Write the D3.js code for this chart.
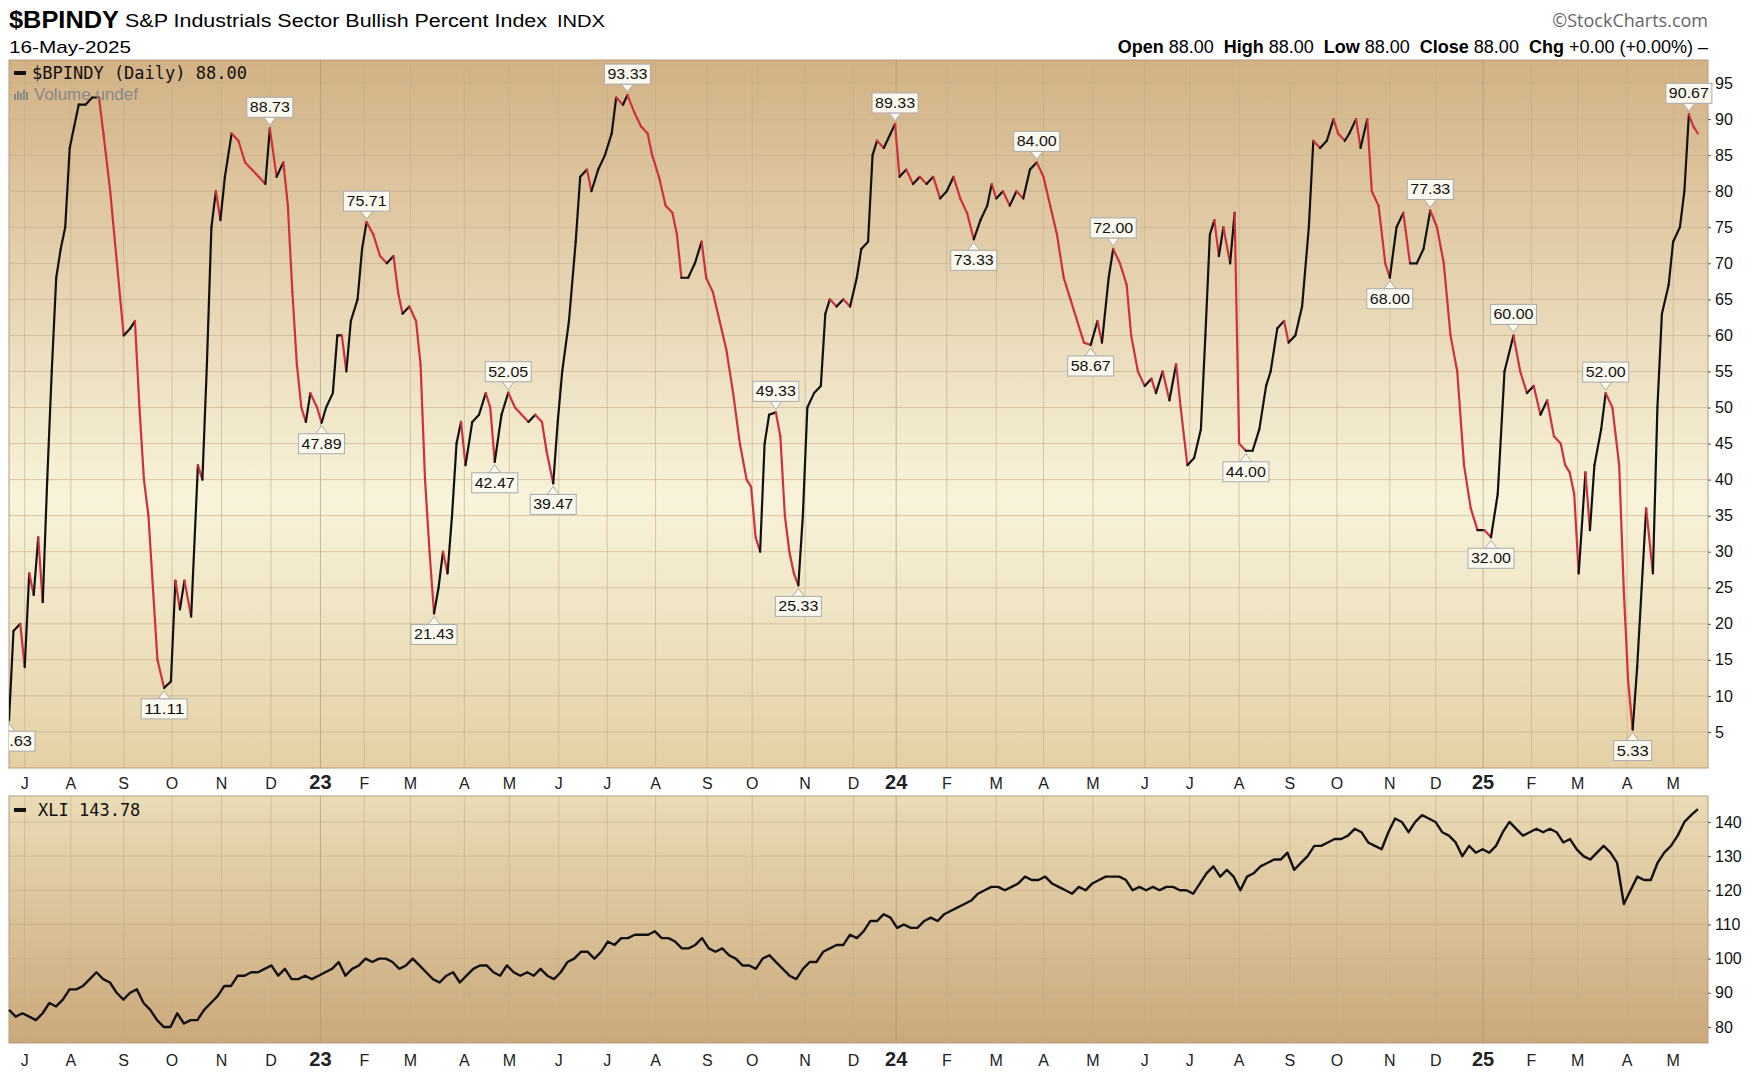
<!DOCTYPE html>
<html><head><meta charset="utf-8">
<script src="https://cdn.jsdelivr.net/npm/d3@7"></script>
<style>body{margin:0;background:#fff}svg{display:block}</style>
</head><body><div id="chart"></div>
<script>
// bar index (trading-day position) and value for $BPINDY
var bpiIdx = [0,2,5,7,9,11,13,15,17,19,21,23,25,27,29,31,34,37,40,42,45,48,51,54,56,58,60,62,64,66,69,72,74,76,78,81,84,86,88,90,92,94,96,99,102,105,108,111,114,116,119,122,124,126,128,130,132,134,137,139,141,144,146,148,150,152,155,157,159,162,165,168,171,173,175,178,181,183,185,187,189,191,193,195,197,199,201,203,206,209,212,214,216,219,222,225,228,231,234,237,239,242,244,246,249,252,254,257,259,262,265,268,270,273,275,278,281,284,286,289,292,295,297,299,302,305,308,310,313,316,319,322,325,328,330,332,334,336,338,341,343,345,347,349,351,353,355,358,361,363,365,368,371,374,377,379,382,384,386,389,392,394,396,399,402,405,408,411,414,417,420,423,426,429,432,435,437,439,442,445,448,451,454,457,460,463,466,469,472,475,478,481,484,486,489,491,494,497,499,502,505,508,510,513,516,519,521,524,527,530,532,534,536,538,540,543,545,547,550,553,556,559,561,564,567,569,572,575,578,580,583,586,589,591,594,596,599,601,604,606,609,612,614,617,620,623,626,629,632,635,638,641,644,647,650,653,656,659,662,665,669,672,675,678,681,684,687,690,692,694,696,698,701,703,705,708,710,713,716,718,720,722,724,726,728,731,733,735,738,740,743,745,747,749,751];
var bpiVal = [6.63,19,20,14,27,24,32,23,40,55,68,72,75,86,89,92,92,93,93,88,80,70,60,61,62,50,40,35,25,15,11.11,12,26,22,26,21,42,40,56,75,80,76,82,88,87,84,83,82,81,88.73,82,84,78,66,56,50,48,52,50,47.89,50,52,60,60,55,62,65,72,75.71,74,71,70,71,66,63,64,62,56,40,30,21.43,25,30,27,35,45,48,42,48,49,52,50,42.47,49,52.05,50,49,48,49,48,44,39.47,48,55,62,73,82,83,80,83,85,88,93,92,93.33,91,89,88,85,82,78,77,74,68,68,70,73,68,66,62,58,52,45,40,39,32,30,45,49,49.33,46,35,30,27,25.33,35,50,52,53,63,65,64,65,64,68,72,73,85,87,86,88,89.33,82,83,81,82,81,82,79,80,82,79,77,73.33,76,78,81,79,80,78,80,79,83,84,82,78,74,68,65,62,59,58.67,62,59,68,72,70,67,60,55,53,54,52,55,51,56,50,42,43,47,60,74,76,71,75,70,77,45,44,44,47,53,55,61,62,59,60,64,75,87,86,87,90,88,87,88,90,86,90,80,78,70,68,75,77,70,70,72,77.33,75,70,60,55,42,36,33,33,32,38,55,60,55,52,53,49,51,46,45,42,41,38,27,41,33,42,47,52,50,42,25,12,5.33,14,25,36,27,50,63,67,73,75,80,90.67,89,88];

// XLI closes, sampled evenly across the same bar range
var xliVal = [85,83,84,83,82,84,87,86,88,91,91,92,94,96,94,93,90,88,90,91,87,85,82,80,80,84,81,82,82,85,87,89,92,92,95,95,96,96,97,98,95,97,94,94,95,94,95,96,97,99,95,97,98,100,99,100,100,99,97,98,100,98,96,94,93,95,96,93,95,97,98,98,96,95,98,96,95,96,95,97,95,94,96,99,100,102,102,100,102,105,104,106,106,107,107,107,108,106,106,105,103,103,104,106,103,102,103,101,100,98,98,97,100,101,99,97,95,94,97,99,99,102,103,104,104,107,106,108,111,111,113,112,109,110,109,109,111,112,111,113,114,115,116,117,119,120,121,121,120,121,122,124,123,123,124,122,121,120,119,121,120,122,123,124,124,124,123,120,121,120,121,120,121,121,120,120,119,122,125,127,124,126,124,120,124,125,127,128,129,129,131,126,128,130,133,133,134,135,135,136,138,137,134,133,132,137,141,140,137,140,142,141,140,137,136,134,130,133,131,132,131,133,137,140,138,136,137,138,137,138,137,134,135,132,130,129,131,133,131,128,116,120,124,123,123,128,131,133,136,140,142,143.78];

var bpiTicks = [5,10,15,20,25,30,35,40,45,50,55,60,65,70,75,80,85,90,95];
var xliTicks = [80,90,100,110,120,130,140];
var monthLabels = ["J","A","S","O","N","D","23","F","M","A","M","J","J","A","S","O","N","D","24","F","M","A","M","J","J","A","S","O","N","D","25","F","M","A","M"];
var monthIdx = [7,27.5,51,72.5,94.5,116.5,138.5,158,178.5,202.5,222.5,244.5,266,287.5,310.5,330.5,354,375.5,394.5,417,439,460,482,505,525,547,569.5,590.5,614,634.5,655.5,677,697.5,719.5,740];

// annotated turning points: bar index, label, above(1)/below(0)
var notes = [[0,"6.63",0],[69,"11.11",0],[116,"88.73",1],[139,"47.89",0],[159,"75.71",1],[189,"21.43",0],[216,"42.47",0],[222,"52.05",1],[242,"39.47",0],[275,"93.33",1],[341,"49.33",1],[351,"25.33",0],[394,"89.33",1],[429,"73.33",0],[457,"84.00",1],[481,"58.67",0],[491,"72.00",1],[550,"44.00",0],[614,"68.00",0],[632,"77.33",1],[659,"32.00",0],[669,"60.00",1],[710,"52.00",1],[722,"5.33",0],[747,"90.67",1]];

var W = 1756, H = 1076;
var L = 9, R = 1708;
var mTop = 60, mBot = 768, lTop = 796, lBot = 1043;
var narrow = "'Liberation Sans',Arial,sans-serif";

var svg = d3.select("#chart").append("svg").attr("width", W).attr("height", H)
  .style("font-family", narrow);

var defs = svg.append("defs");
var g1 = defs.append("linearGradient").attr("id","gMain").attr("x1",0).attr("x2",0).attr("y1",0).attr("y2",1);
g1.append("stop").attr("offset","0").attr("stop-color","#d2b285");
g1.append("stop").attr("offset","0.62").attr("stop-color","#f8f3da");
g1.append("stop").attr("offset","1").attr("stop-color","#e4d0a4");
var g2 = defs.append("linearGradient").attr("id","gLow").attr("x1",0).attr("x2",0).attr("y1",0).attr("y2",1);
g2.append("stop").attr("offset","0").attr("stop-color","#eadcb6");
g2.append("stop").attr("offset","1").attr("stop-color","#caa87b");

var x = d3.scaleLinear().domain([0, 755.5]).range([L, R]);
var y = d3.scaleLinear().domain([0, 98.2]).range([mBot, mTop]);
var y2 = d3.scaleLinear().domain([75.3, 147.6]).range([lBot, lTop]);

function panel(top, bot, fill, ys, ticks) {
  svg.append("rect").attr("x", L).attr("y", top).attr("width", R - L).attr("height", bot - top)
    .attr("fill", fill).attr("stroke", "#b89a7a").attr("stroke-width", 1);
  svg.append("g").selectAll("line").data(monthIdx).enter().append("line")
    .attr("x1", function(d) { return x(d); }).attr("x2", function(d) { return x(d); })
    .attr("y1", top).attr("y2", bot)
    .attr("stroke", function(d, i) { return /\d/.test(monthLabels[i]) ? "#a89070" : "#c4ab88"; })
    .attr("stroke-opacity", 0.6).attr("stroke-width", 1);
  svg.append("g").selectAll("line").data(ticks).enter().append("line")
    .attr("x1", L).attr("x2", R).attr("y1", function(d) { return ys(d); }).attr("y2", function(d) { return ys(d); })
    .attr("stroke", "#c4ab88").attr("stroke-opacity", 0.6);
  var ax = d3.axisRight(ys).tickValues(ticks).tickSize(3).tickPadding(4);
  var ga = svg.append("g").attr("transform", "translate(" + R + ",0)").call(ax);
  ga.select(".domain").remove();
  ga.selectAll("line").attr("stroke", "#555");
  ga.selectAll("text").attr("font-size", 16).attr("font-family", narrow).attr("fill", "#111");
}
panel(mTop, mBot, "url(#gMain)", y, bpiTicks);
panel(lTop, lBot, "url(#gLow)", y2, xliTicks);

function monthAxis(yy) {
  svg.append("g").selectAll("text").data(monthIdx).enter().append("text")
    .attr("x", function(d) { return x(d); }).attr("y", yy).attr("text-anchor", "middle")
    .attr("font-family", narrow)
    .attr("font-size", function(d, i) { return /\d/.test(monthLabels[i]) ? 20 : 16; })
    .attr("font-weight", function(d, i) { return /\d/.test(monthLabels[i]) ? "bold" : "normal"; })
    .attr("fill", "#222")
    .text(function(d, i) { return monthLabels[i]; });
}
monthAxis(789);
monthAxis(1066);

// BPINDY line, black rising / red falling
var segs = d3.pairs(d3.range(bpiIdx.length));
var clip = defs.append("clipPath").attr("id", "cm");
clip.append("rect").attr("x", L).attr("y", mTop).attr("width", R - L).attr("height", mBot - mTop);
svg.append("g").attr("clip-path", "url(#cm)").selectAll("line").data(segs).enter().append("line")
  .attr("x1", function(d) { return x(bpiIdx[d[0]]); }).attr("y1", function(d) { return y(bpiVal[d[0]]); })
  .attr("x2", function(d) { return x(bpiIdx[d[1]]); }).attr("y2", function(d) { return y(bpiVal[d[1]]); })
  .attr("stroke", function(d) { return bpiVal[d[1]] >= bpiVal[d[0]] ? "#111" : "#d0303c"; })
  .attr("stroke-width", 2.2).attr("stroke-linecap", "round");

// XLI line
var step = 751 / (xliVal.length - 1);
var line2 = d3.line().x(function(d, i) { return x(i * step); }).y(function(d) { return y2(d); });
svg.append("path").datum(xliVal).attr("d", line2).attr("fill", "none")
  .attr("stroke", "#111").attr("stroke-width", 2.4).attr("stroke-linejoin", "round");

// value callouts
var ng = svg.append("g").attr("clip-path", "url(#cm2)");
defs.append("clipPath").attr("id", "cm2").append("rect").attr("x", L).attr("y", mTop).attr("width", R - L + 40).attr("height", mBot - mTop);
notes.forEach(function(n) {
  var px = x(n[0]), py = y(+n[1]);
  var bw = n[1].length * 8 + 6, bh = 20;
  var up = n[2] === 1;
  var tip = up ? py - 3 : py + 3;
  var base = up ? py - 11 : py + 11;
  var by = up ? base - bh : base;
  var bx = Math.max(px - bw / 2, L - 12);
  ng.append("path").attr("d", "M" + px + "," + tip + "L" + (px - 6) + "," + base + "L" + (px + 6) + "," + base + "Z")
    .attr("fill", "#fbf8ee").attr("stroke", "#aaa");
  ng.append("rect").attr("x", bx).attr("y", by).attr("width", bw).attr("height", bh)
    .attr("fill", "#fbf8ee").attr("stroke", "#aaa");
  ng.append("text").attr("x", bx + bw / 2).attr("y", by + 15).attr("text-anchor", "middle")
    .attr("font-size", 15).attr("fill", "#111").attr("textLength", bw - 6).attr("lengthAdjust", "spacingAndGlyphs").text(n[1]);
});

// header
var t1 = svg.append("text").attr("x", 9).attr("y", 28).attr("font-size", 23).attr("font-weight", "bold")
  .attr("textLength", 110).attr("lengthAdjust", "spacingAndGlyphs").text("$BPINDY");
svg.append("text").attr("x", 125).attr("y", 27).attr("font-size", 18)
  .attr("textLength", 422).attr("lengthAdjust", "spacingAndGlyphs")
  .text("S&P Industrials Sector Bullish Percent Index");
svg.append("text").attr("x", 557).attr("y", 27).attr("font-size", 16)
  .attr("textLength", 48).attr("lengthAdjust", "spacingAndGlyphs").text("INDX");
svg.append("text").attr("x", 9).attr("y", 53).attr("font-size", 17)
  .attr("textLength", 122).attr("lengthAdjust", "spacingAndGlyphs").text("16-May-2025");
svg.append("text").attr("x", R).attr("y", 27).attr("text-anchor", "end").attr("font-size", 18)
  .attr("font-family", "'Open Sans',sans-serif").attr("fill", "#666").text("\u00a9StockCharts.com");
var st = svg.append("text").attr("x", R).attr("y", 53).attr("text-anchor", "end").attr("font-size", 18)
  .attr("xml:space", "preserve");
[["Open","88.00"],["High","88.00"],["Low","88.00"],["Close","88.00"],["Chg","+0.00 (+0.00%) \u2013"]].forEach(function(p, i) {
  st.append("tspan").attr("font-weight", "bold").text((i ? "  " : "") + p[0] + " ");
  st.append("tspan").text(p[1]);
});

// in-panel legends
svg.append("rect").attr("x", 14).attr("y", 71).attr("width", 12).attr("height", 4).attr("fill", "#111");
svg.append("text").attr("x", 32).attr("y", 79).attr("font-size", 17).attr("font-family", "'DejaVu Sans Mono',monospace")
  .attr("fill", "#111").text("$BPINDY (Daily) 88.00");
svg.append("g").selectAll("rect").data([6, 9, 7, 10, 8]).enter().append("rect")
  .attr("x", function(d, i) { return 14 + i * 3; }).attr("y", function(d) { return 100 - d; })
  .attr("width", 2).attr("height", function(d) { return d; }).attr("fill", "#888");
svg.append("text").attr("x", 34).attr("y", 100).attr("font-size", 17)
  .attr("fill", "#888").text("Volume undef");
svg.append("rect").attr("x", 14).attr("y", 808).attr("width", 12).attr("height", 4).attr("fill", "#111");
svg.append("text").attr("x", 38).attr("y", 816).attr("font-size", 17).attr("font-family", "'DejaVu Sans Mono',monospace")
  .attr("fill", "#111").text("XLI 143.78");
</script></body></html>
